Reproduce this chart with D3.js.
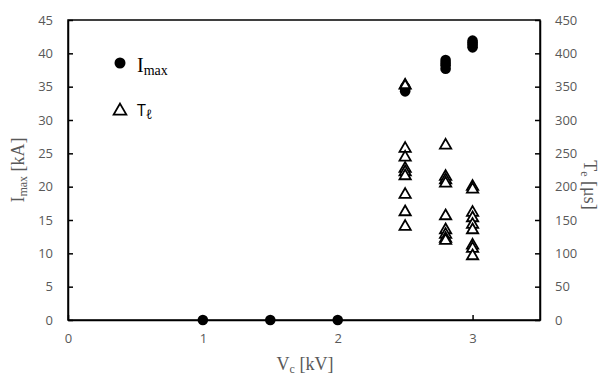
<!DOCTYPE html>
<html><head><meta charset="utf-8">
<script src="https://cdn.jsdelivr.net/npm/d3@7"></script>
<style>body{margin:0;background:#fff}svg{display:block}</style>
</head><body><svg width="608" height="378"></svg>
<script>
const imaxX = [1, 1.5, 2, 2.5, 2.5, 2.5, 2.8, 2.8, 2.8, 2.8, 3, 3, 3, 3];
const imaxY = [0, 0, 0, 34.3, 34.6, 34.9, 37.7, 38.2, 38.6, 39.0, 40.9, 41.3, 41.6, 41.9];
const teX = [2.5,2.5,2.5,2.5,2.5,2.5,2.5,2.5,2.5,
             2.8,2.8,2.8,2.8,2.8,2.8,2.8,2.8,2.8,
             3,3,3,3,3,3,3,3,3];
const teY = [352,257,244,227,222,216,188,162,140,
             262,215,210,205,156,135,128,122,119,
             200,196,161,153,143,135,112,107,96];
const xTicks = [0,1,2,3];
const yTicks = [0,5,10,15,20,25,30,35,40,45];
const y2Ticks = [0,50,100,150,200,250,300,350,400,450];

const svg = d3.select("svg");
const L=68,R=540,T=20,B=320;
const x = d3.scaleLinear().domain([0,3.5]).range([L,R]);
const y = d3.scaleLinear().domain([0,45]).range([B,T]);
const y2 = d3.scaleLinear().domain([0,450]).range([B,T]);
const gray="#595959", sans="'Open Sans', sans-serif", serif="'Liberation Serif', serif";

svg.append("rect").attr("x",L).attr("y",T).attr("width",R-L).attr("height",B-T)
  .attr("fill","none").attr("stroke","#000").attr("stroke-width",1.5);

const ax = svg.append("g").attr("transform",`translate(0,${B})`)
  .call(d3.axisBottom(x).tickValues(xTicks).tickSizeInner(-5).tickSizeOuter(0).tickPadding(14).tickFormat(d3.format("d")));
const ayl = svg.append("g").attr("transform",`translate(${L},0)`)
  .call(d3.axisLeft(y).tickValues(yTicks).tickSizeInner(-5).tickSizeOuter(0).tickPadding(15));
const ayr = svg.append("g").attr("transform",`translate(${R},0)`)
  .call(d3.axisRight(y2).tickValues(y2Ticks).tickSizeInner(-5).tickSizeOuter(0).tickPadding(15));
[ax,ayl,ayr].forEach(g=>{
  g.select(".domain").attr("stroke","#000").attr("stroke-width",1.5);
  g.selectAll(".tick line").attr("stroke","#000").attr("stroke-width",1.5);
  g.selectAll(".tick text").attr("fill",gray).attr("font-family",sans).attr("font-size",13);
});

svg.append("g").selectAll("path").data(teX.map((v,i)=>[v,teY[i]])).join("path")
  .attr("d",d3.symbol(d3.symbolTriangle,55))
  .attr("transform",d=>`translate(${x(d[0])},${y2(d[1])})`)
  .attr("fill","#fff").attr("stroke","#000").attr("stroke-width",1.8);
svg.append("g").selectAll("circle").data(imaxX.map((v,i)=>[v,imaxY[i]])).join("circle")
  .attr("cx",d=>x(d[0])).attr("cy",d=>y(d[1])).attr("r",5.3).attr("fill","#000");
svg.append("path").attr("d",d3.symbol(d3.symbolTriangle,40))
  .attr("transform",`translate(${x(teX[0])},${y2(teY[0])})`)
  .attr("fill","#fff").attr("stroke","#000").attr("stroke-width",1.8);

svg.append("circle").attr("cx",120).attr("cy",63).attr("r",5.5).attr("fill","#000");
const l1 = svg.append("text").attr("x",137).attr("y",72).attr("font-family",serif).attr("font-size",20).attr("fill","#000");
l1.append("tspan").text("I");
l1.append("tspan").attr("font-size",14).attr("dy",3).text("max");
svg.append("path").attr("d",d3.symbol(d3.symbolTriangle,70)).attr("transform","translate(120,111)")
  .attr("fill","#fff").attr("stroke","#000").attr("stroke-width",1.8);
const l2 = svg.append("text").attr("x",137).attr("y",116).attr("font-family",sans).attr("font-size",16).attr("fill","#000");
l2.append("tspan").text("T");
l2.append("tspan").attr("font-size",13).attr("dy",3).text("ℓ");

const t1 = svg.append("text").attr("transform","translate(24,170) rotate(-90)").attr("text-anchor","middle")
  .attr("font-family",serif).attr("font-size",18).attr("fill",gray);
t1.append("tspan").text("I");
t1.append("tspan").attr("font-size",12).attr("dy",3).text("max");
t1.append("tspan").attr("dy",-3).text(" [kA]");
const t2 = svg.append("text").attr("transform","translate(584,185) rotate(90)").attr("text-anchor","middle")
  .attr("font-family",serif).attr("font-size",18).attr("fill",gray);
t2.append("tspan").text("T");
t2.append("tspan").attr("font-size",12).attr("dy",3).text("e");
t2.append("tspan").attr("dy",-3).text(" [μs]");
const t3 = svg.append("text").attr("x",305).attr("y",370).attr("text-anchor","middle")
  .attr("font-family",serif).attr("font-size",18).attr("fill",gray);
t3.append("tspan").text("V");
t3.append("tspan").attr("font-size",12).attr("dy",3).text("c");
t3.append("tspan").attr("dy",-3).text(" [kV]");
</script></body></html>
